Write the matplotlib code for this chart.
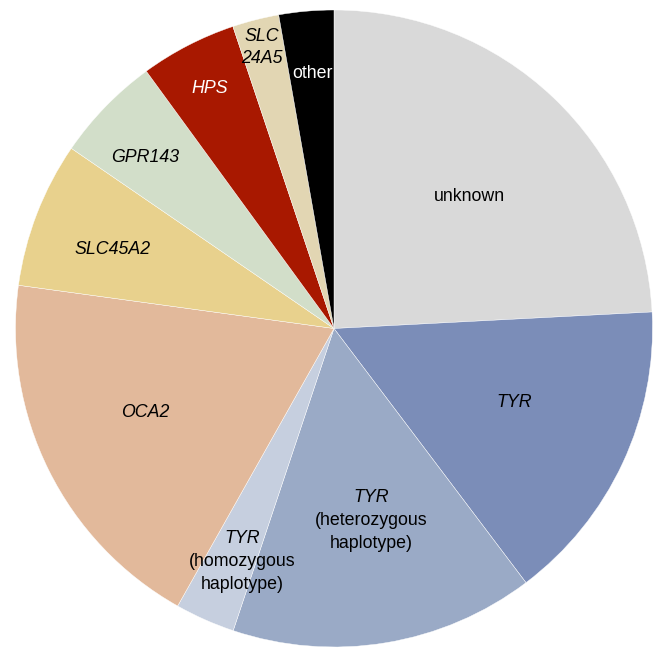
import matplotlib
matplotlib.use("Agg")
import matplotlib.pyplot as plt
import numpy as np

plt.rcParams['font.family'] = ['Liberation Sans', 'DejaVu Sans']

categories = ["unknown", "TYR", "TYR het", "TYR homo", "OCA2", "SLC45A2",
              "GPR143", "HPS", "SLC24A5", "other"]
values = [24.17, 15.53, 15.42, 3.04, 19.0, 7.40, 5.40, 4.89, 2.36, 2.78]
colors = ["#d9d9d9", "#7b8db8", "#9aaac6", "#c6cfdf", "#e2b99b", "#e8d18d",
          "#d2dec9", "#a81800", "#e2d6b3", "#000000"]
# label lines: list of (text, italic)
label_lines = [
    [("unknown", False)],
    [("TYR", True)],
    [("TYR", True), ("(heterozygous", False), ("haplotype)", False)],
    [("TYR", True), ("(homozygous", False), ("haplotype)", False)],
    [("OCA2", True)],
    [("SLC45A2", True)],
    [("GPR143", True)],
    [("HPS", True)],
    [("SLC", True), ("24A5", True)],
    [("other", False)],
]
label_colors = ["black"] * 7 + ["white", "black", "white"]
# label radial distance (fraction of radius) and angular offset (deg)
label_r = [0.592, 0.6105, 0.614, 0.786, 0.650, 0.739, 0.7995, 0.849, 0.911, 0.805]
label_dtheta = [-2.25, 2.76, 1.58, 2.46, -2.41, 1.52, 1.94, 0.12, 0.13, -0.16]
label_spacing_px = [23, 23, 23, 23, 23, 23, 23, 23, 22, 23]

W, H = 653, 648
fig = plt.figure(figsize=(W / 100, H / 100), dpi=100)
ax = fig.add_axes([0, 0, 1, 1])
cx, cy, R = 334.0, 328.5, 318.5

wedges, _ = ax.pie(values, colors=colors, startangle=90, counterclock=False,
                   radius=1.0, wedgeprops=dict(edgecolor="white", linewidth=0.3))

for w, lines, col, rf, dth, sp in zip(wedges, label_lines, label_colors,
                                       label_r, label_dtheta, label_spacing_px):
    mid = np.deg2rad((w.theta1 + w.theta2) / 2 + dth)
    x0, y0 = rf * np.cos(mid), rf * np.sin(mid)
    n = len(lines)
    for i, (txt, it) in enumerate(lines):
        yy = y0 + ((n - 1) / 2 - i) * sp / R
        ax.text(x0, yy, txt, ha="center", va="center", fontsize=12.8,
                color=col, style="italic" if it else "normal")

ax.set_xlim(-cx / R, (W - cx) / R)
ax.set_ylim(-(H - cy) / R, cy / R)
ax.set_aspect("auto")
ax.axis("off")
fig.savefig("out.png", dpi=100)
